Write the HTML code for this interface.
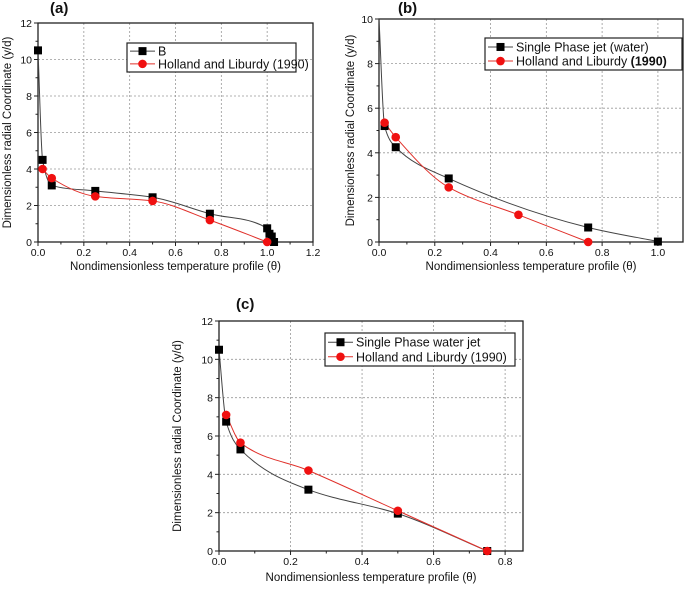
<!DOCTYPE html>
<html><head><meta charset="utf-8"><style>
body{margin:0;background:#fff;}
svg text{font-family:"Liberation Sans",sans-serif;}
</style></head><body>
<svg id="fig" width="685" height="587" viewBox="0 0 685 587" xmlns="http://www.w3.org/2000/svg"></svg>
<script>
// Panel (a)
const aBlackX=[0,0.02,0.06,0.25,0.5,0.75,1.0,1.01,1.02,1.03];
const aBlackY=[10.5,4.5,3.1,2.8,2.45,1.55,0.75,0.45,0.3,0];
const aRedX=[0.02,0.06,0.25,0.5,0.75,1.0];
const aRedY=[4.0,3.5,2.5,2.25,1.2,0];
const aXTicks=["0.0","0.2","0.4","0.6","0.8","1.0","1.2"];
const aYTicks=["0","2","4","6","8","10","12"];
// Panel (b) - first black point is curve start only (no marker)
const bBlackX=[0,0.02,0.06,0.25,0.75,1.0];
const bBlackY=[10,5.2,4.25,2.85,0.65,0.02];
const bRedX=[0.02,0.06,0.25,0.5,0.75];
const bRedY=[5.35,4.7,2.45,1.22,0];
const bXTicks=["0.0","0.2","0.4","0.6","0.8","1.0"];
const bYTicks=["0","2","4","6","8","10"];
// Panel (c)
const cBlackX=[0,0.02,0.06,0.25,0.5,0.75];
const cBlackY=[10.5,6.75,5.3,3.2,1.95,0];
const cRedX=[0.02,0.06,0.25,0.5,0.75];
const cRedY=[7.1,5.65,4.2,2.1,0];
const cXTicks=["0.0","0.2","0.4","0.6","0.8"];
const cYTicks=["0","2","4","6","8","10","12"];

const NS="http://www.w3.org/2000/svg";
const svg=document.getElementById('fig');
function el(tag,attrs,parent,text){const e=document.createElementNS(NS,tag);for(const k in attrs)e.setAttribute(k,attrs[k]);if(text!==undefined)e.textContent=text;(parent||svg).appendChild(e);return e;}

// monotone cubic (Fritsch-Carlson) in pixel space
function smoothPath(pts){
  const n=pts.length;if(n<2)return'';
  const dx=[],s=[];
  for(let i=0;i<n-1;i++){dx[i]=pts[i+1][0]-pts[i][0];s[i]=(pts[i+1][1]-pts[i][1])/(dx[i]||1e-6);}
  const m=[];m[0]=s[0];m[n-1]=s[n-2];
  for(let i=1;i<n-1;i++){
    if(s[i-1]*s[i]<=0)m[i]=0;
    else{const w1=2*dx[i]+dx[i-1],w2=dx[i]+2*dx[i-1];m[i]=(w1+w2)/(w1/s[i-1]+w2/s[i]);}
  }
  let d=`M${pts[0][0]},${pts[0][1]}`;
  for(let i=0;i<n-1;i++){
    const h=dx[i]/3;
    d+=` C${pts[i][0]+h},${pts[i][1]+m[i]*h} ${pts[i+1][0]-h},${pts[i+1][1]-m[i+1]*h} ${pts[i+1][0]},${pts[i+1][1]}`;
  }
  return d;
}

function panel(cfg){
  const g=el('g',{});
  
  
  const {L,T,R,B,xmax,ymax}=cfg;
  const sx=v=>L+v/xmax*(R-L), sy=v=>B-v/ymax*(B-T);
  cfg.xt.forEach(t=>{const x=sx(+t);if(x>L+1&&x<R-1){const gl=el('line',{x1:x,x2:x,y1:T,y2:B,stroke:'#999','stroke-width':0.8,'stroke-dasharray':'2,2'},g);}});
  cfg.yt.forEach(t=>{const y=sy(+t);if(y>T+1&&y<B-1){const gl=el('line',{x1:L,x2:R,y1:y,y2:y,stroke:'#999','stroke-width':0.8,'stroke-dasharray':'2,2'},g);}});
  const box=el('rect',{x:L,y:T,width:R-L,height:B-T,fill:'none',stroke:'#222','stroke-width':1.3},g);
  
  const step=+cfg.xt[1]-+cfg.xt[0];
  for(let v=0;v<=xmax+1e-9;v+=step/2){const x=sx(v);const major=Math.abs(v/step-Math.round(v/step))<1e-6;el('line',{x1:x,x2:x,y1:B,y2:B+(major?4:2.5),stroke:'#222'},g);}
  const ystep=+cfg.yt[1]-+cfg.yt[0];
  for(let v=0;v<=ymax+1e-9;v+=ystep/2){const y=sy(v);const major=Math.abs(v/ystep-Math.round(v/ystep))<1e-6;el('line',{x1:L,x2:L-(major?4:2.5),y1:y,y2:y,stroke:'#222'},g);}
  cfg.xt.forEach(t=>{const tl=el('text',{x:sx(+t),y:B+14,'font-size':10.5,'text-anchor':'middle',fill:'#111'},g,t);});
  cfg.yt.forEach(t=>{const tl=el('text',{x:L-6,y:sy(+t)+4,'font-size':10.5,'text-anchor':'end',fill:'#111'},g,t);});
  const xl=el('text',{x:(L+R)/2,y:cfg.xly,'font-size':11.5,'text-anchor':'middle',fill:'#111'},g,'Nondimensionless temperature profile (θ)');
  
  const yl=el('text',{x:0,y:0,'font-size':11.5,'text-anchor':'middle',fill:'#111',transform:`translate(${cfg.ylx},${(T+B)/2}) rotate(-90)`},g,'Dimensionless radial Coordinate (y/d)');
  
  const tt=el('text',{x:cfg.tx,y:cfg.ty,'font-size':15,'font-weight':'bold',fill:'#111'},g,'('+cfg.id+')');
  
  const bp=cfg.bx.map((v,i)=>[sx(v),sy(cfg.by[i])]);
  const rp=cfg.rx.map((v,i)=>[sx(v),sy(cfg.ry[i])]);
  const bl=el('path',{d:smoothPath(bp),fill:'none',stroke:'#444','stroke-width':1},g);
  
  const rl=el('path',{d:smoothPath(rp),fill:'none',stroke:'#e0302a','stroke-width':1},g);
  
  bp.forEach((p,i)=>{if(cfg.skipFirst&&i===0)return;const m=el('rect',{x:p[0]-4,y:p[1]-4,width:8,height:8,fill:'#000'},g);});
  rp.forEach(p=>{const m=el('circle',{cx:p[0],cy:p[1],r:4.3,fill:'#f01010'},g);});
  const lg=el('g',{},g);
  const [lx,ly,lw,lh]=cfg.leg;
  el('rect',{x:lx,y:ly,width:lw,height:lh,fill:'#fff',stroke:'#222','stroke-width':1.2},lg);
  const r1=ly+lh*0.28,r2=ly+lh*0.72;
  el('line',{x1:lx+3,x2:lx+28,y1:r1,y2:r1,stroke:'#444'},lg);
  el('rect',{x:lx+11.5,y:r1-4,width:8,height:8,fill:'#000'},lg);
  el('line',{x1:lx+3,x2:lx+28,y1:r2,y2:r2,stroke:'#e0302a'},lg);
  el('circle',{cx:lx+15.5,cy:r2,r:4.3,fill:'#f01010'},lg);
  const e1=el('text',{x:lx+31,y:r1+4.5,'font-size':12.5,fill:'#111'},lg,cfg.l1);
  const e2=el('text',{x:lx+31,y:r2+4.5,'font-size':12.5,fill:'#111'},lg);
  e2.textContent='Holland and Liburdy ';
  if(cfg.boldYear){el('tspan',{'font-weight':'bold'},e2,'(1990)');}else{e2.textContent+='(1990)';}
}

panel({id:'a',L:38,T:23,R:313,B:242,xmax:1.2,ymax:12,xt:aXTicks,yt:aYTicks,bx:aBlackX,by:aBlackY,rx:aRedX,ry:aRedY,
  xly:270,ylx:11,tx:50,ty:13,leg:[127,43,169,29],l1:'B'});
panel({id:'b',L:379,T:19,R:683,B:242,xmax:1.09,ymax:10,xt:bXTicks,yt:bYTicks,bx:bBlackX,by:bBlackY,rx:bRedX,ry:bRedY,
  xly:270,ylx:354,tx:398,ty:13,leg:[485,38,197,32],l1:'Single Phase jet (water)',boldYear:true,skipFirst:true});
panel({id:'c',L:219,T:321,R:523,B:551,xmax:0.85,ymax:12,xt:cXTicks,yt:cYTicks,bx:cBlackX,by:cBlackY,rx:cRedX,ry:cRedY,
  xly:581,ylx:181,tx:236,ty:309,leg:[325,333,190,33],l1:'Single Phase water jet'});
</script>
</body></html>
